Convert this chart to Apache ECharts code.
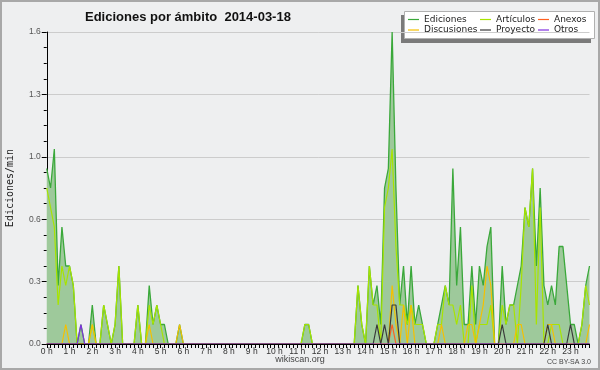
<!DOCTYPE html>
<html><head><meta charset="utf-8">
<script src="https://cdn.jsdelivr.net/npm/echarts@6/dist/echarts.min.js"></script>
<style>html,body{margin:0;padding:0;background:#eeeff0}#c{width:600px;height:370px}</style>
</head><body><div id="c"></div>
<script>
// 10-minute slots over the day (144), values in edits per minute
const hourLabels = ['0 h','1 h','2 h','3 h','4 h','5 h','6 h','7 h','8 h','9 h','10 h','11 h',
  '12 h','13 h','14 h','15 h','16 h','17 h','18 h','19 h','20 h','21 h','22 h','23 h'];
const yTickLabels = ['0.0','0.3','0.6','1.0','1.3','1.6'];
const slots = [];
for (let h = 0; h < 24; h++) for (let m = 0; m < 60; m += 10) slots.push(h + ':' + (m < 10 ? '0' : '') + m);

const ediciones = [
  0.9,0.8,1.0,0.3,0.6,0.4,0.4,0.3,0,0.1,0,0,
  0.2,0,0,0.2,0.1,0,0.1,0.4,0,0,0,0,
  0.2,0,0,0.3,0.1,0.2,0.1,0.1,0,0,0,0.1,
  0,0,0,0,0,0,0,0,0,0,0,0,
  0,0,0,0,0,0,0,0,0,0,0,0,
  0,0,0,0,0,0,0,0,0.1,0.1,0,0,
  0,0,0,0,0,0,0,0,0,0,0.3,0.1,
  0,0.4,0.2,0.3,0.1,0.8,0.9,1.6,0.8,0.2,0.4,0.1,
  0.4,0.1,0.2,0.1,0,0,0,0.1,0.2,0.3,0.2,0.9,
  0.3,0.6,0.1,0.1,0.4,0.1,0.4,0.3,0.5,0.6,0,0,
  0.4,0.1,0.2,0.2,0.3,0.4,0.7,0.6,0.9,0.4,0.8,0.3,
  0.2,0.3,0.2,0.5,0.5,0.3,0.1,0.1,0,0.1,0.3,0.4
];
const articulos = [
  0.8,0.7,0.6,0.2,0.4,0.3,0.4,0.3,0,0,0,0,
  0.1,0,0,0.2,0.1,0,0.1,0.4,0,0,0,0,
  0.2,0,0,0.2,0.1,0.2,0.1,0,0,0,0,0,
  0,0,0,0,0,0,0,0,0,0,0,0,
  0,0,0,0,0,0,0,0,0,0,0,0,
  0,0,0,0,0,0,0,0,0.1,0.1,0,0,
  0,0,0,0,0,0,0,0,0,0,0.3,0.1,
  0,0.4,0.2,0.2,0,0.7,0.8,1.0,0.5,0.2,0.2,0.1,
  0.2,0.1,0.1,0.1,0,0,0,0.1,0.1,0.3,0.2,0.2,
  0.1,0.2,0,0,0.3,0,0.1,0.1,0.1,0.2,0,0,
  0.2,0.1,0.2,0.2,0,0.3,0.7,0.6,0.9,0.1,0.7,0,
  0,0.1,0.1,0.1,0,0,0,0,0,0.1,0.3,0.2
];
const anexos = [
  0,0,0,0,0,0,0,0,0,0,0,0, 0,0,0,0,0,0,0,0,0,0,0,0,
  0,0,0,0,0,0,0,0,0,0,0,0, 0,0,0,0,0,0,0,0,0,0,0,0,
  0,0,0,0,0,0,0,0,0,0,0,0, 0,0,0,0,0,0,0,0,0,0,0,0,
  0,0,0,0,0,0,0,0,0,0,0,0, 0,0,0,0,0,0,0,0.1,0,0,0,0,
  0,0,0,0,0,0,0,0,0,0,0,0, 0,0,0,0,0,0,0,0,0,0,0,0,
  0,0,0,0,0,0,0,0,0,0,0,0, 0,0,0,0,0,0,0,0,0,0,0,0
];
const discusiones = [
  0,0,0,0,0,0.1,0,0,0,0,0,0, 0.1,0,0,0,0,0,0,0,0,0,0,0,
  0,0,0,0.1,0,0,0,0,0,0,0,0.1, 0,0,0,0,0,0,0,0,0,0,0,0,
  0,0,0,0,0,0,0,0,0,0,0,0, 0,0,0,0,0,0,0,0,0,0,0,0,
  0,0,0,0,0,0,0,0,0,0,0,0, 0,0,0,0,0,0,0,0.3,0.1,0,0.2,0,
  0.2,0,0,0,0,0,0,0,0.1,0,0,0, 0,0,0,0.1,0.1,0,0.1,0.2,0.4,0.3,0,0,
  0,0,0,0,0.1,0.1,0,0,0,0,0,0, 0.1,0.1,0,0,0,0,0,0,0,0,0,0.1
];
const proyecto = [
  0,0,0,0,0,0,0,0,0,0,0,0, 0,0,0,0,0,0,0,0,0,0,0,0,
  0,0,0,0,0,0,0,0,0,0,0,0, 0,0,0,0,0,0,0,0,0,0,0,0,
  0,0,0,0,0,0,0,0,0,0,0,0, 0,0,0,0,0,0,0,0,0,0,0,0,
  0,0,0,0,0,0,0,0,0,0,0,0, 0,0,0,0.1,0,0.1,0,0.2,0.2,0,0,0,
  0,0,0,0,0,0,0,0,0,0,0,0, 0,0,0,0,0,0,0,0,0,0,0,0,
  0.1,0,0,0,0,0,0,0,0,0,0,0, 0.1,0,0,0,0,0,0.1,0,0,0,0,0
];
const otros = [
  0,0,0,0,0,0,0,0,0,0.1,0,0, 0,0,0,0,0,0,0,0,0,0,0,0,
  0,0,0,0,0,0,0,0,0,0,0,0, 0,0,0,0,0,0,0,0,0,0,0,0,
  0,0,0,0,0,0,0,0,0,0,0,0, 0,0,0,0,0,0,0,0,0,0,0,0,
  0,0,0,0,0,0,0,0,0,0,0,0, 0,0,0,0,0,0,0,0,0,0,0,0,
  0,0,0,0,0,0,0,0,0,0,0,0, 0,0,0,0,0,0,0,0,0,0,0,0,
  0,0,0,0,0,0,0,0,0,0,0,0, 0,0,0,0,0,0,0,0,0,0,0,0
];

const colors = {
  Ediciones:'#3aa83a', 'Artículos':'#a8e400', Anexos:'#ff6020',
  Discusiones:'#f5c000', Proyecto:'#3a3a3a', Otros:'#8030e0'
};
function lineSeries(name, data, extra) {
  return Object.assign({
    name, type:'line', data, symbol:'none', silent:true,
    lineStyle:{color:colors[name], width:1.2},
    itemStyle:{color:colors[name]}
  }, extra || {});
}
const legendText = {fontFamily:'DejaVu Sans', fontSize:9, color:'#222', lineHeight:10};
function legendCol(left, names) {
  return {left, top:14.5, orient:'vertical', itemGap:0.5, padding:0, icon:'rect',
    itemWidth:11, itemHeight:1.2, itemStyle:{borderWidth:0}, textStyle:legendText,
    selectedMode:false, data:names};
}

const chart = echarts.init(document.getElementById('c'), null, {renderer:'canvas'});
chart.setOption({
  backgroundColor:'#eeeff0',
  animation:false,
  title:{text:'Ediciones por ámbito  2014-03-18', left:80, top:6,
    textStyle:{fontFamily:'Liberation Sans', fontSize:13, fontWeight:'bold', color:'#111'}},
  graphic:[
    {type:'rect', shape:{x:1, y:1, width:598, height:368}, style:{fill:'none', stroke:'#a8a8a8', lineWidth:2}, z:0},
    {type:'rect', shape:{x:401, y:15, width:190, height:28}, style:{fill:'#7a7a7a'}, z:0},
    {type:'rect', shape:{x:404.5, y:11.5, width:190, height:27}, style:{fill:'#ffffff', stroke:'#b0b0b0', lineWidth:1}, z:0},
    {type:'text', left:'center', x:300, top:355, style:{text:'wikiscan.org', fontFamily:'Liberation Sans', fontSize:9, fill:'#444'}},
    {type:'text', right:9, top:359, style:{text:'CC BY-SA 3.0', fontFamily:'Liberation Sans', fontSize:7, fill:'#444'}}
  ],
  legend:[
    legendCol(408, ['Ediciones','Discusiones']),
    legendCol(480, ['Artículos','Proyecto']),
    legendCol(538, ['Anexos','Otros'])
  ],
  grid:{left:46.75, right:10.5, top:32, bottom:26, outerBoundsMode:'none', containLabel:false},
  xAxis:{type:'category', data:slots, boundaryGap:false, z:10,
    axisLine:{lineStyle:{color:'#000', width:1}},
    axisTick:{interval:0, length:4, lineStyle:{color:'#000'}},
    axisLabel:{interval:5, margin:3, fontFamily:'Liberation Sans', fontSize:8.5, color:'#333',
      formatter:(v, i) => hourLabels[Math.round(i / 6)]},
    splitLine:{show:false}},
  yAxis:{type:'value', min:0, max:1.6, interval:0.32,
    name:'Ediciones/min', nameLocation:'middle', nameGap:31, nameRotate:90,
    nameTextStyle:{fontFamily:'DejaVu Sans Mono', fontSize:10, color:'#222'},
    axisLine:{show:true, lineStyle:{color:'#000', width:1}},
    axisTick:{show:true, length:5, lineStyle:{color:'#000'}},
    minorTick:{show:true, splitNumber:4, length:3, lineStyle:{color:'#000'}},
    axisLabel:{margin:6, fontFamily:'Liberation Sans', fontSize:8.5, color:'#555',
      formatter:v => yTickLabels[Math.round(v / 0.32)]},
    splitLine:{show:true, lineStyle:{color:'#cccccc', width:1}}},
  series:[
    lineSeries('Ediciones', ediciones, {areaStyle:{color:'#9ec99b', opacity:1}, lineStyle:{color:colors.Ediciones, width:1.3}}),
    lineSeries('Artículos', articulos),
    lineSeries('Anexos', anexos),
    lineSeries('Discusiones', discusiones),
    lineSeries('Proyecto', proyecto),
    lineSeries('Otros', otros)
  ]
});
</script>
</body></html>
